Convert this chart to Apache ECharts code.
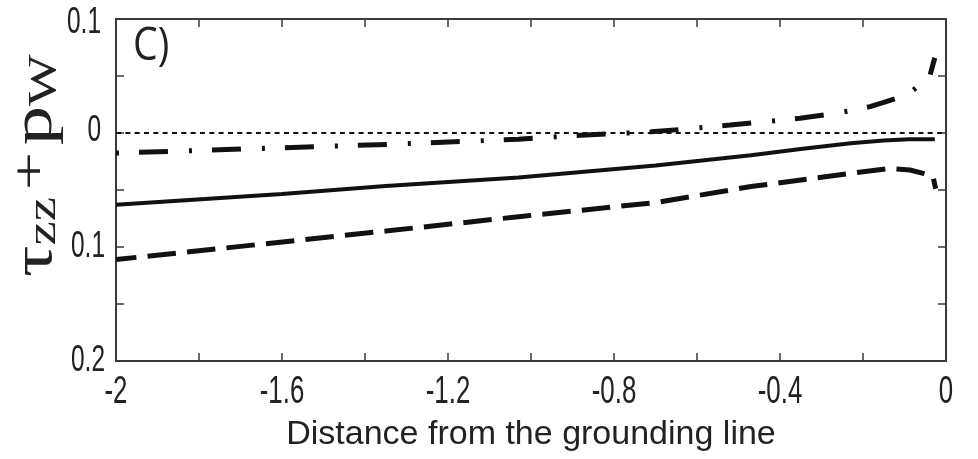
<!DOCTYPE html>
<html><head><meta charset="utf-8">
<script src="https://cdn.jsdelivr.net/npm/echarts@6/dist/echarts.min.js"></script>
<style>html,body{margin:0;padding:0;background:#fff}#c{width:978px;height:459px}</style>
</head><body><div id="c"></div>
<script>
// Solid curve
const solidX = [-2, -1.6, -1.35, -1.03, -0.7, -0.47, -0.35, -0.23, -0.15, -0.09, -0.027];
const solidY = [-0.063, -0.0535, -0.0465, -0.039, -0.0285, -0.0195, -0.014, -0.009, -0.0065, -0.0055, -0.0055];
// Dashed curve
const dashX = [-2, -1.61, -1.35, -1.03, -0.7, -0.47, -0.23, -0.135, -0.087, -0.055, -0.031, -0.025];
const dashY = [-0.111, -0.096, -0.086, -0.0734, -0.061, -0.047, -0.0354, -0.031, -0.0325, -0.0354, -0.0383, -0.049];
// Dash-dot curve
const dashDotX = [-2, -1.34, -1.03, -0.88, -0.71, -0.61, -0.52, -0.436, -0.352, -0.263, -0.183, -0.152, -0.094, -0.057, -0.039, -0.027];
const dashDotY = [-0.0176, -0.0099, -0.0055, -0.002, 0.001, 0.004, 0.007, 0.0099, 0.0129, 0.0173, 0.0231, 0.0266, 0.0333, 0.044, 0.050, 0.066];
// Zero reference line
const zeroX = [-2, 0];
const zeroY = [0, 0];
// Tick labels
const xTickValues = [-2, -1.6, -1.2, -0.8, -0.4, 0];
const xTickLabels = ['-2', '-1.6', '-1.2', '-0.8', '-0.4', '0'];
const yTickValues = [0.1, 0, -0.1, -0.2];
const yTickLabels = ['0.1', '0', '0.1', '0.2'];

const pairs = (xs, ys) => xs.map((x, i) => [x, ys[i]]);
const sans = "'Liberation Sans', Arial, sans-serif";
const serif = "'Liberation Serif', 'DejaVu Serif', serif";
const axisCol = '#3a3a3a';
const txtCol = '#222';

const chart = echarts.init(document.getElementById('c'), null, {renderer: 'canvas'});
const baseX = {type: 'value', min: -2, max: 0, interval: 0.2, splitLine: {show: false},
  axisLabel: {show: false},
  axisLine: {show: true, onZero: false, lineStyle: {color: axisCol, width: 2}},
  axisTick: {show: true, inside: true, length: 8, lineStyle: {color: axisCol, width: 1.5}}};
const baseY = {type: 'value', min: -0.2, max: 0.1, interval: 0.05, splitLine: {show: false},
  axisLabel: {show: false},
  axisLine: {show: true, onZero: false, lineStyle: {color: axisCol, width: 2}},
  axisTick: {show: true, inside: true, length: 8, lineStyle: {color: axisCol, width: 1.5}}};

chart.setOption({
  animation: false,
  backgroundColor: '#fff',
  grid: {left: 116, right: 32, top: 19, bottom: 98, containLabel: false},
  xAxis: [
    Object.assign({}, baseX, {position: 'bottom',
      name: 'Distance from the grounding line', nameLocation: 'middle', nameGap: 57,
      nameTextStyle: {fontSize: 34, fontFamily: sans, color: txtCol}}),
    Object.assign({}, baseX, {position: 'top'})
  ],
  yAxis: [
    Object.assign({}, baseY, {position: 'left'}),
    Object.assign({}, baseY, {position: 'right'})
  ],
  series: [
    {type: 'line', name: 'zero', data: pairs(zeroX, zeroY), showSymbol: false, silent: true,
      lineStyle: {color: '#111', width: 2, type: [5, 4.33]}},
    {type: 'line', name: 'solid', data: pairs(solidX, solidY), showSymbol: false,
      lineStyle: {color: '#111', width: 4, type: 'solid'}},
    {type: 'line', name: 'dashed', data: pairs(dashX, dashY), showSymbol: false,
      lineStyle: {color: '#111', width: 5, type: [28.5, 11.2], dashOffset: 8, cap: 'butt'}},
    {type: 'line', name: 'dashdot', data: pairs(dashDotX, dashDotY), showSymbol: false,
      lineStyle: {color: '#111', width: 5, type: [29, 21, 3, 20], dashOffset: 50, cap: 'butt'}}
  ]
});

// Tick labels placed through the axes' own scales (condensed glyphs as in the reference)
const graphics = [];
xTickValues.forEach((v, i) => {
  const px = chart.convertToPixel({xAxisIndex: 0}, v);
  graphics.push({type: 'text', x: px, y: 393, scaleX: 0.68, silent: true,
    style: {text: xTickLabels[i], font: '38px ' + sans, fill: txtCol, textAlign: 'center', textVerticalAlign: 'middle'}});
});
yTickValues.forEach((v, i) => {
  const py = chart.convertToPixel({yAxisIndex: 0}, v);
  graphics.push({type: 'text', x: i < 2 ? 101 : 105, y: py + (i === 0 ? 4 : (i === 1 ? -2 : 0)), scaleX: 0.68, silent: true,
    style: {text: yTickLabels[i], font: '36px ' + sans, fill: txtCol, textAlign: 'right', textVerticalAlign: 'middle'}});
});
graphics.push({type: 'text', left: 133, top: 24, scaleX: 0.85, silent: true,
  style: {text: 'C)', font: "46px 'Open Sans', 'Liberation Sans', sans-serif", fill: txtCol}});
graphics.push({type: 'text', x: 36, y: 277, rotation: Math.PI / 2, scaleX: 1.4, silent: true,
  style: {text: '{a|τ}{b|zz}{c|+}{a|p}{b|W}', textAlign: 'left', textVerticalAlign: 'middle',
    rich: {
      a: {fontFamily: serif, fontSize: 56, lineHeight: 56, verticalAlign: 'middle', fill: txtCol},
      b: {fontFamily: serif, fontSize: 39, lineHeight: 39, verticalAlign: 'bottom', fill: txtCol},
      c: {fontFamily: serif, fontSize: 48, lineHeight: 42, verticalAlign: 'top', padding: [0, 5, 0, 5], fill: txtCol}
    }}});
chart.setOption({graphic: graphics});
</script>
</body></html>
